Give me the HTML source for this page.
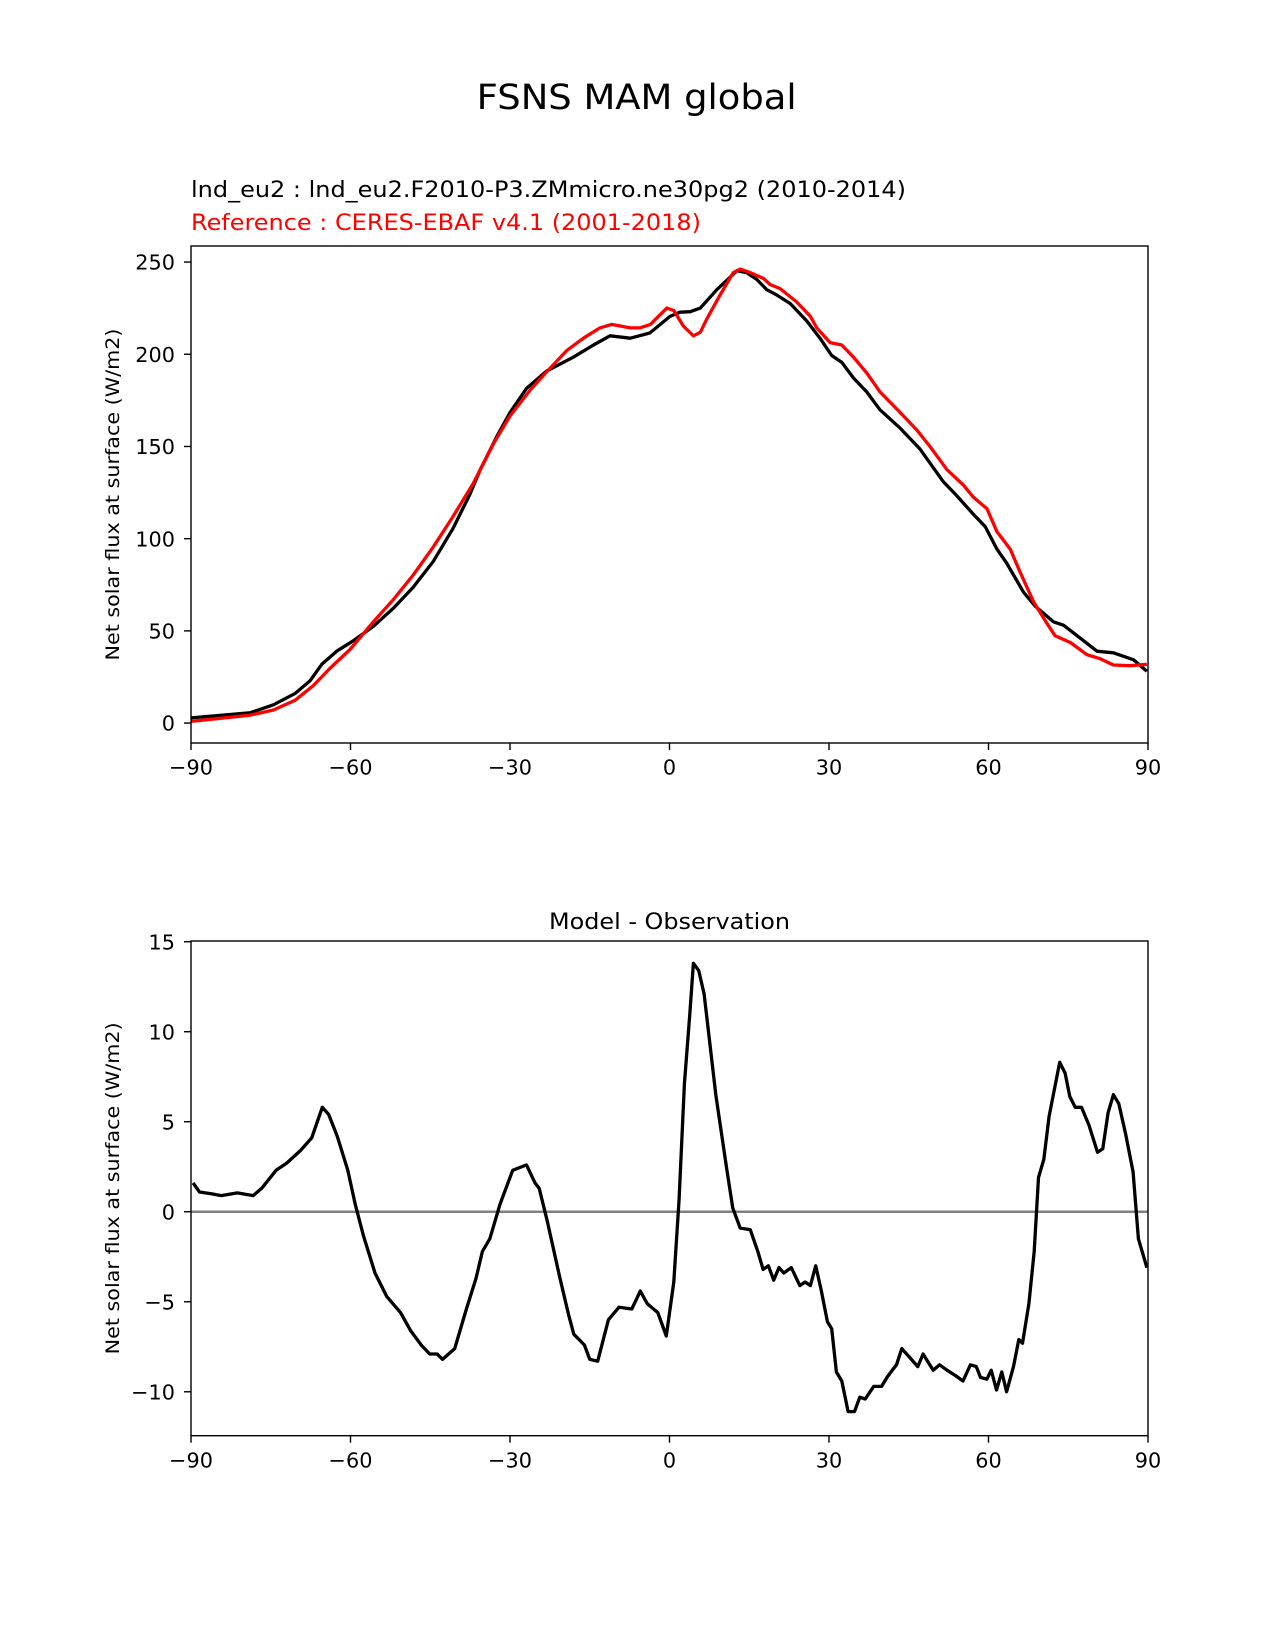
<!DOCTYPE html>
<html><head><meta charset="utf-8"><style>
body{margin:0;background:#fff;}
svg{display:block;}
svg text{font-family:"DejaVu Sans","Liberation Sans",sans-serif;}
</style></head><body>
<svg id="fig" width="1275" height="1650" xmlns="http://www.w3.org/2000/svg">
<rect width="1275" height="1650" fill="#fff"/>
<text x="636.7" y="109" font-size="35" text-anchor="middle" textLength="320" lengthAdjust="spacingAndGlyphs">FSNS MAM global</text>
<text x="191" y="197" font-size="22.5" textLength="715" lengthAdjust="spacingAndGlyphs">lnd_eu2 : lnd_eu2.F2010-P3.ZMmicro.ne30pg2 (2010-2014)</text>
<text x="191" y="230" font-size="22.5" fill="#ff0000" textLength="510" lengthAdjust="spacingAndGlyphs">Reference : CERES-EBAF v4.1 (2001-2018)</text>
<text x="669.5" y="929" font-size="22" text-anchor="middle" textLength="241" lengthAdjust="spacingAndGlyphs">Model - Observation</text>
<g id="top"></g>
<g id="bot"></g>
</svg>
<script>
const modelLat=[-90,-78.9,-74.5,-70.4,-67.6,-65.4,-62.6,-59.5,-55.7,-51.9,-48.2,-44.4,-40.7,-37.5,-35.6,-32.5,-30,-26.9,-23.1,-18.1,-14.3,-11.2,-7.4,-3.7,0.1,2,3.9,5.8,8.9,12.7,14.5,16.4,18.3,20.2,22.7,25.8,28.3,30.5,32.4,34.6,37.1,39.6,43.4,47.1,51.5,54,57.2,59.4,61.6,63.4,66.6,68.8,72.2,74.1,77.9,80.4,83.5,87.3,89.8];
const modelVal=[2.8,5.6,9.9,16.1,23,31.9,39,44.6,52.5,62.4,73.7,87.8,105.6,124.3,137.4,155.3,168.4,181.5,190.9,198.4,205,210,208.7,211.5,220.5,222.8,223.1,225,235,245.3,244.3,240.6,235,232.1,227.5,218.1,208.7,199.3,195.6,187.1,179.6,169.9,159.9,148.7,130.9,123.4,113.1,106.5,94.3,86.8,70.9,63.4,54.9,53.1,44.6,39,38.1,34.3,28.1];
const obsLat=[-90,-78.9,-74.5,-70.4,-67,-63.9,-60.1,-55.7,-51.9,-48.2,-44.4,-40.7,-36.9,-33.1,-30,-26.2,-23.1,-19.3,-16.2,-13.1,-10.9,-7.4,-5.6,-3.6,-0.5,0.8,2.6,4.5,5.8,7,9.5,12,13.3,15.2,17.7,18.9,20.8,23.9,26.5,27.7,30.2,32.4,34.6,37.1,39.6,43.4,46.5,49,52.2,55.3,57.2,59.7,61.6,64.1,65.9,68.5,71,72.5,75.4,78.5,81,83.5,86.6,89.8];
const obsVal=[0.9,4.3,7.1,12.4,20.3,29.6,39.9,54.9,67.1,80.3,95.6,112.1,130,151.5,166.5,180.6,190.5,202.1,208.7,214.3,216.2,214.3,214.3,216.2,225,223.7,215.3,210,211.9,219,232.1,244.3,246.2,244.3,241.1,237.8,235.6,228.4,220.5,214.3,206.3,205,198.4,189.9,179.6,168.4,159,150,137.4,129,122.4,116.3,103.7,94.3,82.1,65.6,54,47.4,43.7,37.1,34.9,31.5,31.1,31.9];
const diffLat=[-89.6,-88.4,-86.2,-84.3,-81.3,-78.3,-76.7,-74,-72,-69.4,-67.3,-65.3,-64.1,-62.5,-60.5,-59.1,-57.6,-55.4,-53.2,-50.6,-48.7,-46.7,-45.1,-43.7,-42.7,-40.4,-38.2,-36.4,-35.2,-33.8,-31.9,-29.5,-26.9,-25.3,-24.5,-23,-20.6,-19,-18,-16,-15,-13.5,-11.5,-9.5,-7.1,-5.5,-4.2,-2.2,-0.6,0.8,1.8,2.8,3.8,4.5,5.5,6.5,8.7,10.7,11.9,13.3,15.2,16.6,17.6,18.6,19.6,20.6,21.5,22.9,24.5,25.5,26.5,27.5,28.5,29.7,30.5,31.4,32.4,33.6,34.8,35.8,36.8,38.4,39.9,40.9,41.9,42.7,43.7,45.5,46.7,47.7,49.6,50.8,52.2,53.8,55.2,56.6,57.7,58.5,59.7,60.5,61.5,62.5,63.4,64.7,65.7,66.4,67.6,68.6,69.4,70.4,71.4,72.4,73.4,74.4,75.3,76.3,77.5,78.9,80.5,81.5,82.5,83.5,84.5,85.8,87.2,88.2,89.8];
const diffVal=[1.6,1.1,1.0,0.9,1.05,0.9,1.3,2.3,2.7,3.4,4.1,5.8,5.4,4.2,2.3,0.4,-1.3,-3.4,-4.7,-5.6,-6.6,-7.4,-7.9,-7.9,-8.2,-7.6,-5.4,-3.7,-2.2,-1.5,0.4,2.3,2.6,1.6,1.3,-0.5,-3.7,-5.7,-6.8,-7.4,-8.2,-8.3,-6,-5.3,-5.4,-4.4,-5.1,-5.6,-6.9,-3.9,0.7,7.1,10.9,13.8,13.4,12.1,6.5,2.5,0.2,-0.9,-1,-2.2,-3.2,-3,-3.8,-3.1,-3.4,-3.1,-4.1,-3.9,-4.1,-3,-4.3,-6.1,-6.5,-8.9,-9.4,-11.1,-11.1,-10.3,-10.4,-9.7,-9.7,-9.2,-8.8,-8.5,-7.6,-8.2,-8.6,-7.9,-8.8,-8.5,-8.8,-9.1,-9.4,-8.5,-8.6,-9.2,-9.3,-8.8,-9.9,-8.9,-10,-8.6,-7.1,-7.3,-5.1,-2.2,1.9,2.9,5.3,6.8,8.3,7.7,6.4,5.8,5.8,4.8,3.3,3.5,5.5,6.5,6,4.3,2.2,-1.5,-3.1];
const xTicks=[-90,-60,-30,0,30,60,90];
const xTickLabels=["\u221290","\u221260","\u221230","0","30","60","90"];
const topYTicks=[0,50,100,150,200,250];
const botYTicks=[-10,-5,0,5,10,15];
const botYTickLabels=["\u221210","\u22125","0","5","10","15"];

const NS="http://www.w3.org/2000/svg";
function mk(parent,tag,attrs){const e=document.createElementNS(NS,tag);for(const k in attrs)e.setAttribute(k,attrs[k]);parent.appendChild(e);return e;}
const X0=191,X1=1148;
function xs(v){return X0+(v+90)/180*(X1-X0);}
function drawAxes(g,top,bottom,ymin,ymax,yTicks,yLabels,name){
  const ys=v=>bottom-(v-ymin)/(ymax-ymin)*(bottom-top);
  xTicks.forEach((t,i)=>{
    const l=mk(g,'line',{x1:xs(t),x2:xs(t),y1:bottom,y2:bottom+7,stroke:'#000','stroke-width':1.4});
    
    
    const tx=mk(g,'text',{x:xs(t),y:bottom+31.6,'font-size':20.8,'text-anchor':'middle'});
    
    
    tx.textContent=xTickLabels[i];
  });
  yTicks.forEach((t,i)=>{
    const l=mk(g,'line',{x1:X0-7,x2:X0,y1:ys(t),y2:ys(t),stroke:'#000','stroke-width':1.4});
    
    
    const tx=mk(g,'text',{x:X0-16,y:ys(t)+7.6,'font-size':20.8,'text-anchor':'end'});
    
    
    tx.textContent=yLabels[i];
  });
  const yl=mk(g,'text',{x:0,y:0,'font-size':19,'text-anchor':'middle',textLength:332,lengthAdjust:'spacingAndGlyphs',transform:`translate(119,${(top+bottom)/2}) rotate(-90)`});
  
  
  yl.textContent='Net solar flux at surface (W/m2)';
  return ys;
}
function line(g,lat,val,ys,color,w,name){
  const d=lat.map((v,i)=>(i?'L':'M')+xs(v).toFixed(1)+' '+ys(val[i]).toFixed(1)).join(' ');
  const p=mk(g,'path',{d:d,fill:'none',stroke:color,'stroke-width':w,'stroke-linejoin':'round'});
  
  
}
const gt=document.getElementById('top');
const T0=246,T1=743;
const ysT=drawAxes(gt,T0,T1,-10.8,258.7,topYTicks,topYTicks.map(String),'top');
line(gt,modelLat,modelVal,ysT,'#000',3.3,'model-line');
line(gt,obsLat,obsVal,ysT,'#ff0000',3.3,'observation-line');
const ft=mk(gt,'rect',{x:X0,y:T0,width:X1-X0,height:T1-T0,fill:'none',stroke:'#000','stroke-width':1.4});



const gb=document.getElementById('bot');
const B0=941,B1=1435.7;
const ysB=drawAxes(gb,B0,B1,-12.44,15.04,botYTicks,botYTickLabels,'diff');
const z=mk(gb,'line',{x1:X0,x2:X1,y1:ysB(0),y2:ysB(0),stroke:'#808080','stroke-width':2.6});


line(gb,diffLat,diffVal,ysB,'#000',3.3,'difference-line');
const fb=mk(gb,'rect',{x:X0,y:B0,width:X1-X0,height:B1-B0,fill:'none',stroke:'#000','stroke-width':1.4});


</script>
</body></html>
